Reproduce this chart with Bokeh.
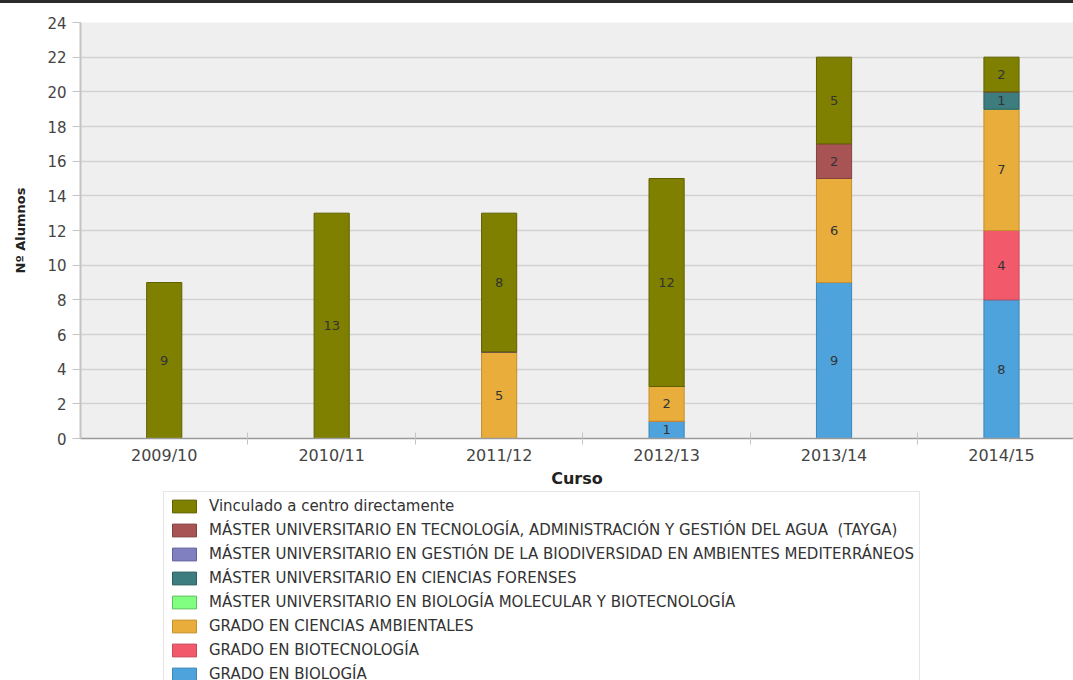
from bokeh.plotting import figure
from bokeh.models import (ColumnDataSource, Range1d, FixedTicker, Legend, LegendItem)
from bokeh.layouts import column
from bokeh.core.properties import value
from bokeh.embed import file_html
from bokeh.resources import INLINE

# ---- data ----
cursos = ["2009/10", "2010/11", "2011/12", "2012/13", "2013/14", "2014/15"]

grado_biologia = [0, 0, 0, 1, 9, 8]
grado_biotecnologia = [0, 0, 0, 0, 0, 4]
grado_ambientales = [0, 0, 5, 2, 6, 7]
master_molecular = [0, 0, 0, 0, 0, 0]
master_forenses = [0, 0, 0, 0, 0, 1]
master_biodiversidad = [0, 0, 0, 0, 0, 0]
master_tayga = [0, 0, 0, 0, 2, 0]
vinculado = [9, 13, 8, 12, 5, 2]

# bottom -> top stacking order
series_names = [
    "GRADO EN BIOLOGÍA",
    "GRADO EN BIOTECNOLOGÍA",
    "GRADO EN CIENCIAS AMBIENTALES",
    "MÁSTER UNIVERSITARIO EN BIOLOGÍA MOLECULAR Y BIOTECNOLOGÍA",
    "MÁSTER UNIVERSITARIO EN CIENCIAS FORENSES",
    "MÁSTER UNIVERSITARIO EN GESTIÓN DE LA BIODIVERSIDAD EN AMBIENTES MEDITERRÁNEOS",
    "MÁSTER UNIVERSITARIO EN TECNOLOGÍA, ADMINISTRACIÓN Y GESTIÓN DEL AGUA  (TAYGA)",
    "Vinculado a centro directamente",
]
series_values = [grado_biologia, grado_biotecnologia, grado_ambientales, master_molecular,
                 master_forenses, master_biodiversidad, master_tayga, vinculado]
fill_colors = ["#4ea3dc", "#f25a6c", "#e9ad3c", "#80ff80", "#3d7d7f", "#8080c0", "#a85454", "#808000"]
line_colors = ["#3b86bb", "#c8485a", "#c58f2c", "#60c060", "#2c5e60", "#6060a0", "#844040", "#606000"]

FONT = "DejaVu Sans"

# ---- main chart ----
p = figure(width=1073, height=487, output_backend="svg", toolbar_location=None,
           x_range=Range1d(0, 5.93), y_range=Range1d(0, 24),
           min_border_left=80, min_border_right=0, min_border_top=19, min_border_bottom=51)
p.outline_line_color = None
p.background_fill_color = "#efefef"
p.border_fill_color = "white"

x = [i + 0.5 for i in range(len(cursos))]
keys = ["s%d" % i for i in range(len(series_names))]
data = {"x": x}
for k, v in zip(keys, series_values):
    data[k] = v
src = ColumnDataSource(data)

renderers = p.vbar_stack(keys, x="x", width=0.21, source=src,
                         fill_color=fill_colors, line_color=line_colors, line_width=1)

# segment labels
lx, ly, lt = [], [], []
for i in range(len(cursos)):
    base = 0
    for v in series_values:
        if v[i] > 0:
            lx.append(x[i])
            ly.append(base + v[i] / 2.0)
            lt.append(str(v[i]))
        base += v[i]
p.text(x=lx, y=ly, text=lt, text_align="center", text_baseline="middle",
       text_font=value(FONT), text_font_size="13px", text_color="#333333")

# ---- axes ----
p.xgrid.grid_line_color = None
p.ygrid.grid_line_color = "#d2d2d2"
p.ygrid.grid_line_width = 1.5
p.yaxis.ticker = FixedTicker(ticks=list(range(0, 25, 2)))
p.xaxis.ticker = FixedTicker(ticks=x, minor_ticks=[1, 2, 3, 4, 5])
p.xaxis.major_label_overrides = {xi: c for xi, c in zip(x, cursos)}

for ax in (p.xaxis[0], p.yaxis[0]):
    ax.axis_line_color = "#c4c4c4"
    ax.axis_line_width = 2
    ax.major_label_text_font = FONT
    ax.major_label_text_color = "#444444"
    ax.axis_label_text_font = FONT
    ax.axis_label_text_font_style = "bold"
    ax.axis_label_text_color = "#222222"

p.xaxis.axis_line_color = "#9a9a9a"
p.xaxis.axis_line_width = 1.5
p.xaxis.major_tick_line_color = None
p.xaxis.major_tick_in = 0
p.xaxis.major_tick_out = 6
p.xaxis.minor_tick_line_color = "#c4c4c4"
p.xaxis.minor_tick_in = 6
p.xaxis.minor_tick_out = 6
p.xaxis.major_label_standoff = 1
p.xaxis.major_label_text_font_size = "16px"
p.xaxis.axis_label = "Curso"
p.xaxis.axis_label_text_font_size = "16px"
p.xaxis.axis_label_standoff = 1

p.yaxis.major_tick_line_color = "#c4c4c4"
p.yaxis.major_tick_in = 0
p.yaxis.major_tick_out = 8
p.yaxis.minor_tick_line_color = None
p.yaxis.major_label_standoff = 6
p.yaxis.major_label_text_font_size = "15px"
p.yaxis.axis_label = "Nº Alumnos"
p.yaxis.axis_label_text_font_size = "13px"
p.yaxis.axis_label_standoff = 16

# ---- legend panel (top entry = top of stack) ----
lg = figure(width=1073, height=190, output_backend="svg", toolbar_location=None,
            x_axis_location=None, y_axis_location=None,
            x_range=Range1d(0, 1), y_range=Range1d(0, 1),
            min_border=0)
lg.outline_line_color = None
lg.grid.grid_line_color = None
lg.background_fill_color = "white"
lg.border_fill_color = "white"

# off-range stand-ins that only provide the legend swatches
legend_renderers = [lg.vbar(x=[-5.0], top=[0.0], width=0.1, fill_color=fc, line_color=lc)
                    for fc, lc in zip(fill_colors, line_colors)]
items = [LegendItem(label=n, renderers=[r]) for n, r in zip(series_names, legend_renderers)][::-1]
legend = Legend(items=items, location=(83, -9), orientation="vertical",
                label_text_font=FONT, label_text_font_size="15px", label_height=16,
                label_text_color="#333333", glyph_width=30, glyph_height=16,
                label_standoff=10, spacing=6, padding=5, margin=0,
                border_line_color="#cccccc", border_line_width=1,
                background_fill_color="white", background_fill_alpha=1.0)
lg.add_layout(legend)

layout = column(p, lg, spacing=0, styles={"border-top": "3px solid #2b2b2b"})
open("out.html", "w").write(file_html(layout, INLINE))
